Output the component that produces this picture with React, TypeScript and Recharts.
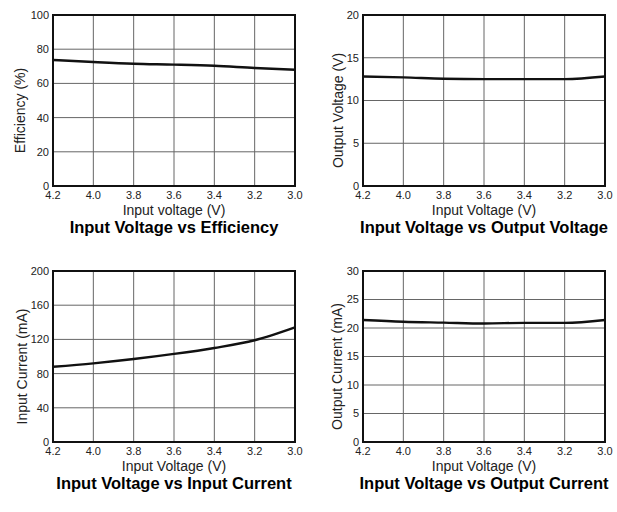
import { CartesianGrid, Label, Line, LineChart, ReferenceArea, XAxis, YAxis } from "recharts";

const inputVoltage = [4.2, 4.0, 3.8, 3.6, 3.4, 3.2, 3.0];
const voltageTicks = [4.2, 4.0, 3.8, 3.6, 3.4, 3.2, 3.0];

const efficiency = [73.7, 72.5, 71.5, 71, 70.3, 69, 68];
const efficiencyTicks = [0, 20, 40, 60, 80, 100];

const outputVoltage = [12.8, 12.7, 12.55, 12.5, 12.5, 12.5, 12.8];
const outputVoltageTicks = [0, 5, 10, 15, 20];

const inputCurrent = [88, 92, 97, 103, 110, 119, 134];
const inputCurrentTicks = [0, 40, 80, 120, 160, 200];

const outputCurrent = [21.4, 21.1, 20.95, 20.8, 20.9, 20.9, 21.4];
const outputCurrentTicks = [0, 5, 10, 15, 20, 25, 30];

const FONT = "'Liberation Sans', Arial, sans-serif";

type PanelProps = {
  left: number;
  top: number;
  width: number;
  values: number[];
  yTicks: number[];
  yLabel: string;
  xLabel: string;
  title: string;
  yLabelX: number;
};

function YTitle(props: any) {
  const vb = props.viewBox || { x: 13, y: 15, width: 40, height: 171 };
  const cx = props.lx;
  const cy = vb.y + vb.height / 2 + 10;
  return (
    <text
      x={cx}
      y={cy}
      transform={`rotate(-90, ${cx}, ${cy})`}
      textAnchor="middle"
      dominantBaseline="central"
      fontFamily={FONT}
      fontSize={14}
      fill="#222"
    >
      {props.text}
    </text>
  );
}

function XTitle(props: any) {
  const vb = props.viewBox || { x: 53, y: 186, width: 242, height: 50 };
  const cx = vb.x + vb.width / 2;
  return (
    <text
      x={cx}
      y={vb.y + props.dy}
      textAnchor="middle"
      dominantBaseline="central"
      fontFamily={FONT}
      fontSize={props.size}
      fontWeight={props.weight}
      fill={props.color}
    >
      {props.text}
    </text>
  );
}

function Panel({ left, top, width, values, yTicks, yLabel, xLabel, title, yLabelX }: PanelProps) {
  const data = inputVoltage.map((v, i) => ({ v, y: values[i] }));
  const yMax = yTicks[yTicks.length - 1];
  return (
    <div style={{ position: "absolute", left, top }}>
      <LineChart width={width} height={250} data={data} margin={{ top: 15, right: width - 295, left: 13, bottom: 14 }}>
        <CartesianGrid stroke="#666" strokeWidth={1} />
        <XAxis
          dataKey="v"
          type="number"
          domain={[3.0, 4.2]}
          reversed
          ticks={voltageTicks}
          interval={0}
          tickFormatter={(t: number) => t.toFixed(1)}
          axisLine={false}
          tickLine={false}
          tickSize={2}
          tickMargin={3}
          height={50}
          tick={{ fill: "#222", fontSize: 11, fontFamily: FONT }}
        >
          <Label content={(p: any) => <XTitle {...p} text={xLabel} dy={24} size={14} weight={400} color="#222" />} />
          <Label content={(p: any) => <XTitle {...p} text={title} dy={41} size={16.5} weight={700} color="#000" />} />
        </XAxis>
        <YAxis
          type="number"
          domain={[0, yMax]}
          ticks={yTicks}
          interval={0}
          axisLine={false}
          tickLine={false}
          tickSize={2}
          tickMargin={2}
          width={40}
          tick={{ fill: "#222", fontSize: 11, fontFamily: FONT }}
        >
          <Label content={(p: any) => <YTitle {...p} text={yLabel} lx={yLabelX} />} />
        </YAxis>
        <Line type="monotone" dataKey="y" stroke="#111" strokeWidth={2.4} dot={false} isAnimationActive={false} />
        <ReferenceArea x1={3.0} x2={4.2} y1={0} y2={yMax} fill="none" stroke="#111" strokeWidth={2} ifOverflow="visible" />
      </LineChart>
    </div>
  );
}

export default function App() {
  return (
    <div style={{ position: "absolute", left: 0, top: 0, width: 617, height: 512, background: "#fff", overflow: "hidden" }}>
      <Panel
        left={0}
        top={0}
        width={310}
        values={efficiency}
        yTicks={efficiencyTicks}
        yLabel="Efficiency (%)"
        xLabel="Input voltage (V)"
        title="Input Voltage vs Efficiency"
        yLabelX={20}
      />
      <Panel
        left={310}
        top={0}
        width={307}
        values={outputVoltage}
        yTicks={outputVoltageTicks}
        yLabel="Output Voltage (V)"
        xLabel="Input Voltage (V)"
        title="Input Voltage vs Output Voltage"
        yLabelX={28}
      />
      <Panel
        left={0}
        top={256}
        width={310}
        values={inputCurrent}
        yTicks={inputCurrentTicks}
        yLabel="Input Current (mA)"
        xLabel="Input Voltage (V)"
        title="Input Voltage vs Input Current"
        yLabelX={22}
      />
      <Panel
        left={310}
        top={256}
        width={307}
        values={outputCurrent}
        yTicks={outputCurrentTicks}
        yLabel="Output Current (mA)"
        xLabel="Input Voltage (V)"
        title="Input Voltage vs Output Current"
        yLabelX={27}
      />
    </div>
  );
}
